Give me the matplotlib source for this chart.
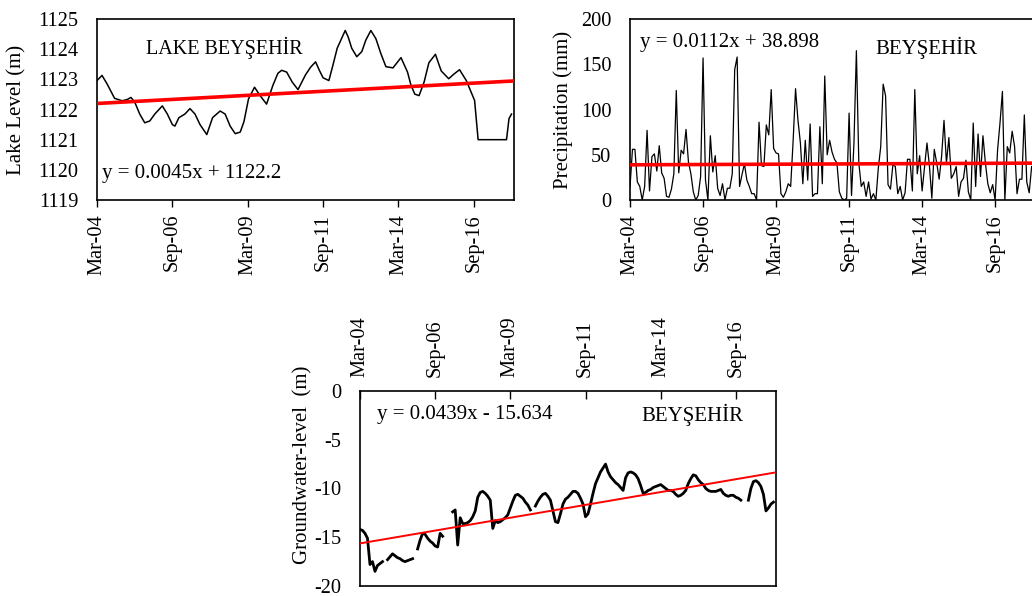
import matplotlib
matplotlib.use("Agg")
import matplotlib.pyplot as plt
import numpy as np

plt.rcParams['font.family'] = 'Liberation Serif'
plt.rcParams['axes.unicode_minus'] = False

# monthly axis, month 0 = March 2004
n_months = 166
tick_months = [0, 30, 60, 90, 120, 150]
tick_labels = ['Mar-04', 'Sep-06', 'Mar-09', 'Sep-11', 'Mar-14', 'Sep-16']

# lake level (m)
lake_month = [0, 2, 4, 7, 10, 12, 13.5, 15, 17, 19, 21, 23, 26, 28, 30, 31, 32.6,
              35, 37, 39, 41, 43.7, 46, 49, 51, 53, 55, 57, 58.5, 60.3, 62.7, 64.9,
              67.5, 70, 72, 73.5, 75.5, 77.7, 80, 83, 85, 87, 88.5, 90, 92.3, 94,
              95.6, 98.8, 100, 101.4, 103.4, 105.4, 107, 109, 111, 113, 115, 117.8,
              121, 123.6, 125, 126.5, 128.2, 130.2, 132.1, 134.7, 137, 140, 142,
              144.3, 147, 150.3, 151.7, 163, 164, 165]
lake_level = [1122.96, 1123.13, 1122.85, 1122.37, 1122.29, 1122.33, 1122.4, 1122.25,
              1121.85, 1121.56, 1121.62, 1121.85, 1122.12, 1121.85, 1121.5, 1121.45,
              1121.73, 1121.85, 1122.03, 1121.85, 1121.5, 1121.17, 1121.73, 1121.95,
              1121.85, 1121.45, 1121.2, 1121.25, 1121.6, 1122.35, 1122.74, 1122.46,
              1122.18, 1122.8, 1123.2, 1123.3, 1123.24, 1122.91, 1122.66, 1123.15,
              1123.4, 1123.58, 1123.3, 1123.05, 1122.96, 1123.5, 1124.03, 1124.62,
              1124.4, 1124.03, 1123.75, 1123.92, 1124.3, 1124.62, 1124.35, 1123.85,
              1123.42, 1123.38, 1123.72, 1123.24, 1122.8, 1122.51, 1122.46, 1122.91,
              1123.55, 1123.83, 1123.28, 1123.02, 1123.17, 1123.32, 1122.96, 1122.3,
              1121.0, 1121.0, 1121.7, 1121.85]

# monthly precipitation (mm)
rain_mm = [15, 56, 56, 20, 15, 0, 15, 77, 10, 48, 51, 32, 60, 30, 24, 4, 3, 12, 29, 121,
           30, 55, 51, 78, 42, 29, 9, 0, 5, 26, 157, 22, 0, 71, 31, 49, 13, 5, 18, 0,
           13, 13, 29, 144, 158, 15, 28, 40, 22, 15, 7, 7, 0, 86, 38, 37, 83, 72, 122, 57,
           52, 51, 7, 3, 9, 18, 15, 65, 123, 88, 63, 18, 66, 22, 84, 4, 7, 7, 81, 18,
           137, 50, 66, 53, 45, 41, 9, 2, 0, 2, 96, 5, 63, 165, 41, 15, 20, 4, 20, 1,
           7, 0, 35, 59, 128, 115, 17, 12, 39, 37, 7, 15, 0, 8, 45, 45, 10, 122, 29, 49,
           10, 37, 63, 38, 2, 56, 41, 23, 48, 88, 41, 69, 24, 29, 37, 4, 20, 24, 44, 9,
           0, 85, 15, 73, 26, 71, 41, 18, 8, 17, 0, 55, 85, 120, 0, 59, 52, 76, 59, 7,
           23, 23, 94, 20, 8, 37]

# groundwater level (m), None = no measurement
gw_level = [-14.2, -14.3, -14.6, -15.1, -17.8, -17.5, -18.5, -17.9, -17.7, -17.5,
            None, -17.3, -17.0, -16.7, -16.9, -17.1, -17.2, -17.4, -17.5, -17.4,
            -17.3, -17.2, None, -16.2, -15.3, -14.6, -14.7, -15.1, -15.4, -15.6,
            -15.9, -16.0, -14.6, -14.9, None, None, None, -12.4, -12.2, -15.8,
            -13.0, -13.6, -13.6, -13.5, -13.3, -12.9, -12.3, -10.9, -10.4, -10.3,
            -10.5, -10.8, -11.2, -14.1, -13.3, -13.5, -13.4, -13.2, -13.0, -12.7,
            -12.0, -11.3, -10.7, -10.6, -10.8, -11.0, -11.4, -11.7, -12.2, None,
            -11.8, -11.3, -10.9, -10.6, -10.5, -10.8, -11.2, -12.3, -13.4, -13.5,
            -12.6, -11.6, -11.1, -10.9, -10.6, -10.3, -10.3, -10.5, -11.0, -11.6,
            -12.9, -12.6, -11.6, -10.5, -9.5, -8.9, -8.3, -7.9, -7.5, -8.3,
            -8.8, -9.1, -9.4, -9.6, -9.9, -10.2, -8.9, -8.4, -8.3, -8.4,
            -8.6, -9.0, -9.7, -10.5, -10.4, -10.2, -10.1, -9.9, -9.8, -9.7,
            -9.6, -9.8, -10.0, -10.2, -10.2, -10.3, -10.6, -10.8, -10.7, -10.5,
            -10.2, -9.5, -9.0, -8.6, -8.7, -9.1, -9.4, -9.6, -10.0, -10.2,
            -10.3, -10.3, -10.3, -10.2, -10.1, -10.5, -10.7, -10.8, -10.7, -10.7,
            -10.9, -11.0, -11.2, None, None, -11.2, -10.0, -9.3, -9.2, -9.4,
            -9.8, -10.6, -12.3, -12.0, -11.6, -11.4]

# linear trend coefficients (slope, intercept)
lake_fit = (0.0045, 1122.2)
rain_fit = (0.0112, 38.898)
gw_fit = (0.0439, -15.634)

fs = 15
tick_fs = 14.7


def style(ax, ylim, yticks):
    ax.set_xlim(0, n_months)
    ax.set_ylim(*ylim)
    ax.set_yticks(yticks)
    ax.set_xticks(tick_months)
    ax.set_xticklabels(tick_labels, rotation=90)
    ax.tick_params(axis='y', length=0, pad=13.5, labelsize=tick_fs)
    ax.tick_params(axis='x', length=5, width=1, pad=5, labelsize=tick_fs)
    for s in ax.spines.values():
        s.set_linewidth(1.2)


def trend(ax, fit, lw):
    xs = np.array([0, n_months])
    ax.plot(xs, fit[0] * xs + fit[1], color='#ff0000', lw=lw, zorder=3)


fig = plt.figure(figsize=(10.32, 5.96), dpi=100)

# lake level
ax1 = fig.add_axes([0.094, 0.6644, 0.4041, 0.3037])
ax1.plot(lake_month, lake_level, color='black', lw=1.1, solid_joinstyle='round')
trend(ax1, lake_fit, 2.6)
style(ax1, (1119, 1125), range(1119, 1126))
ax1.set_ylabel('Lake Level (m)', fontsize=fs)
ax1.yaxis.set_label_coords(-0.168, 0.5)
ax1.text(0.305, 0.84, 'LAKE BEYŞEHİR', transform=ax1.transAxes, fontsize=14.5,
         ha='center', va='center')
ax1.text(0.012, 0.149, 'y = 0.0045x + 1122.2', transform=ax1.transAxes,
         fontsize=fs, ha='left', va='center')

# precipitation
ax2 = fig.add_axes([0.6105, 0.6644, 0.3915, 0.3037])
ax2.plot(np.arange(len(rain_mm)), rain_mm, color='black', lw=0.9)
trend(ax2, rain_fit, 2.6)
style(ax2, (0, 200), range(0, 201, 50))
ax2.set_ylabel('Precipitation (mm)', fontsize=fs)
ax2.yaxis.set_label_coords(-0.142, 0.5)
ax2.text(0.025, 0.869, 'y = 0.0112x + 38.898', transform=ax2.transAxes,
         fontsize=fs, ha='left', va='center')
ax2.text(0.734, 0.838, 'BEYŞEHİR', transform=ax2.transAxes, fontsize=fs,
         ha='center', va='center')

# groundwater level, date axis on top
gw = np.array([np.nan if v is None else v for v in gw_level])
ax3 = fig.add_axes([0.3488, 0.0168, 0.4031, 0.3272])
ax3.plot(np.arange(len(gw)), gw, color='black', lw=2.0)
trend(ax3, gw_fit, 1.4)
style(ax3, (-20, 0), range(-20, 1, 5))
ax3.xaxis.tick_top()
ax3.tick_params(axis='x', direction='in', length=6, pad=10)
ax3.set_ylabel('Groundwater-level  (m)', fontsize=fs)
ax3.yaxis.set_label_coords(-0.113, 0.62)
ax3.text(0.04, 0.877, 'y = 0.0439x - 15.634', transform=ax3.transAxes,
         fontsize=fs, ha='left', va='center')
ax3.text(0.80, 0.877, 'BEYŞEHİR', transform=ax3.transAxes, fontsize=fs,
         ha='center', va='center')

fig.savefig('out.png', dpi=100)
